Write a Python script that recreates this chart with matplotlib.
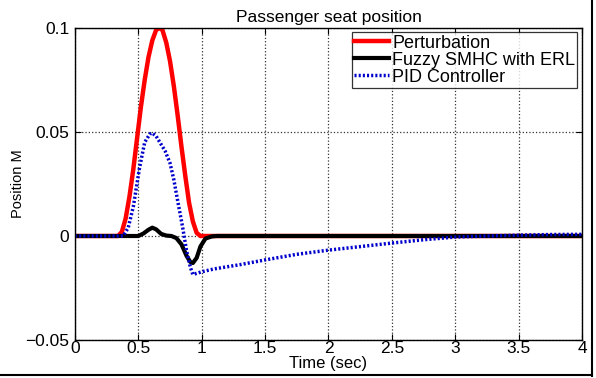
import matplotlib
matplotlib.use('Agg')
import matplotlib.pyplot as plt
from matplotlib.lines import Line2D

plt.rcParams['font.family'] = ['Liberation Sans', 'DejaVu Sans']

# perturbation bump
t_pert = [0, 0.34, 0.37, 0.40, 0.43, 0.46, 0.49, 0.52, 0.55, 0.58, 0.61, 0.64, 0.665,
          0.69, 0.72, 0.75, 0.78, 0.81, 0.84, 0.87, 0.90, 0.93, 0.96, 0.99, 4.0]
v_pert = [0, 0, 0.002, 0.0085, 0.019, 0.032, 0.047, 0.062, 0.075, 0.086, 0.094, 0.099, 0.100,
          0.099, 0.093, 0.084, 0.072, 0.058, 0.043, 0.029, 0.016, 0.007, 0.0015, 0, 0]

# fuzzy SMHC with ERL
t_fuzzy = [0, 0.50, 0.54, 0.58, 0.61, 0.64, 0.68, 0.72, 0.76, 0.80, 0.84, 0.88,
           0.91, 0.93, 0.96, 0.99, 1.03, 1.08, 1.12, 4.0]
v_fuzzy = [0, 0, 0.0012, 0.003, 0.004, 0.0032, 0.001, 0.0002, 0, -0.001, -0.004, -0.0095,
           -0.0125, -0.013, -0.0105, -0.005, -0.0012, -0.0002, 0, 0]

# PID controller
t_pid = [0, 0.38, 0.42, 0.46, 0.51, 0.55, 0.59, 0.61, 0.64, 0.67, 0.71, 0.75, 0.78,
         0.81, 0.85, 0.88, 0.91, 0.93, 1.0, 1.1, 1.3, 1.5, 1.75, 2.0, 2.25, 2.5,
         2.75, 3.0, 3.25, 3.5, 3.75, 4.0]
v_pid = [0, 0, 0.004, 0.014, 0.033, 0.045, 0.049, 0.0495, 0.048, 0.045, 0.041, 0.035, 0.027,
         0.017, 0.004, -0.007, -0.015, -0.0185, -0.0172, -0.0158, -0.0138, -0.0115, -0.0088,
         -0.0068, -0.0051, -0.0034, -0.0018, -0.0005, 0.0, 0.0004, 0.0007, 0.0008]

fig = plt.figure(figsize=(5.96, 3.78), dpi=100)
ax = fig.add_axes([0.1258, 0.1005, 0.8507, 0.8255])

ax.plot(t_pert, v_pert, color='#ff0000', lw=3.2, label='Perturbation')
ax.plot(t_fuzzy, v_fuzzy, color='black', lw=3, label='Fuzzy SMHC with ERL')
ax.plot(t_pid, v_pid, color='#0000cc', lw=2.5, ls=(0, (0.6, 0.6)), label='PID Controller')

ax.set_xlim(0, 4)
ax.set_ylim(-0.05, 0.1)
ax.set_xticks([0, 0.5, 1, 1.5, 2, 2.5, 3, 3.5, 4])
ax.set_xticklabels(['0', '0.5', '1', '1.5', '2', '2.5', '3', '3.5', '4'])
ax.set_yticks([-0.05, 0, 0.05, 0.1])
ax.set_yticklabels(['\u22120.05', '0', '0.05', '0.1'])
ax.tick_params(direction='in', labelsize=12.5, length=4, top=True, right=True)
ax.tick_params(axis='x', pad=1)
ax.tick_params(axis='y', pad=4)
ax.grid(True, ls=':', color='#333333', lw=0.9)
for s in ax.spines.values():
    s.set_linewidth(1.0)

ax.set_title('Passenger seat position', fontsize=12.5, pad=4)
ax.set_xlabel('Time (sec)', fontsize=12, labelpad=0)
ax.set_ylabel('Position M', fontsize=10.5, labelpad=0)

leg = ax.legend(loc='upper right', fontsize=13, frameon=True, fancybox=False,
                edgecolor='black', borderpad=0.12, labelspacing=0.0,
                handlelength=1.9, handletextpad=0.2, borderaxespad=0.25)
leg.get_frame().set_linewidth(0.9)

# partial frame around figure (right and bottom)
fig.add_artist(Line2D([592 / 596, 592 / 596], [2 / 378, 1.0], color='black', lw=1.5))
fig.add_artist(Line2D([0, 592 / 596], [3 / 378, 3 / 378], color='black', lw=1.5))

fig.savefig('out.png', dpi=100)
